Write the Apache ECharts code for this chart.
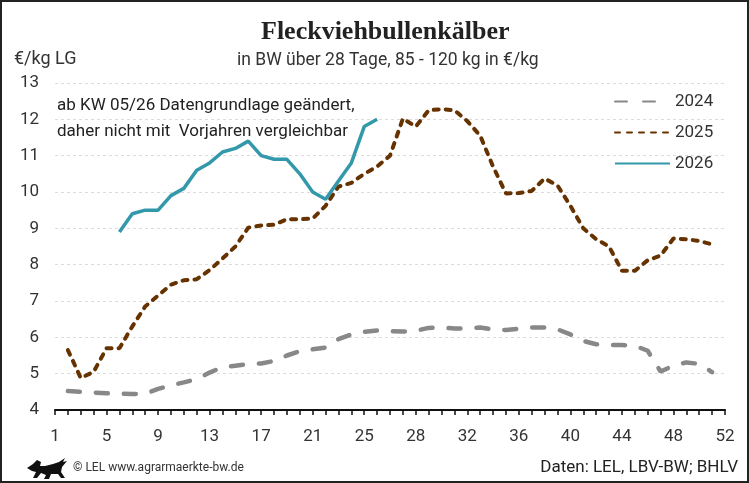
<!DOCTYPE html>
<html lang="de">
<head>
<meta charset="UTF-8">
<title>Fleckviehbullenkälber</title>
<script src="https://cdn.jsdelivr.net/npm/echarts@6/dist/echarts.min.js"></script>
<style>
  html, body { margin: 0; padding: 0; background: #fff; }
  #main {
    width: 749px;
    height: 483px;
    box-sizing: border-box;
    border: 2px solid #222;
  }
</style>
</head>
<body>
<div id="main"></div>
<script>
// 53 slots on the x axis, labels every 4th slot
const weeks = Array.from({ length: 53 }, (_, i) => String(i + 1));
const tickLabels = ['1', '5', '9', '13', '17', '21', '25', '28', '32', '36', '40', '44', '48', '52'];

const y2024 = [null,
  4.52, 4.50, 4.48, 4.46, 4.45, 4.44, 4.45, 4.58, 4.68, 4.76,
  4.85, 5.03, 5.18, 5.22, 5.26, 5.28, 5.35, 5.50, 5.62, 5.67,
  5.72, 5.95, 6.08, 6.15, 6.19, 6.17, 6.16, 6.18, 6.26, 6.27,
  6.24, 6.24, 6.27, 6.22, 6.20, 6.24, 6.27, 6.27, 6.22, 6.08,
  5.90, 5.81, 5.79, 5.79, 5.77, 5.63, 5.06, 5.22, 5.31, 5.27,
  5.04, null];

const y2025 = [null,
  5.65, 4.88, 5.05, 5.70, 5.70, 6.30, 6.85, 7.15, 7.45, 7.57,
  7.60, 7.85, 8.17, 8.50, 9.02, 9.08, 9.10, 9.25, 9.25, 9.27,
  9.62, 10.15, 10.25, 10.50, 10.70, 11.00, 12.02, 11.80, 12.25, 12.28,
  12.25, 11.95, 11.55, 10.70, 9.96, 9.97, 10.03, 10.37, 10.18, 9.62,
  9.00, 8.70, 8.50, 7.83, 7.83, 8.12, 8.25, 8.72, 8.70, 8.65,
  8.56, null];

const y2026 = [null, null, null, null, null,
  8.90, 9.40, 9.50, 9.50, 9.90, 10.10, 10.60, 10.80, 11.10, 11.20,
  11.40, 11.00, 10.90, 10.90, 10.50, 10.00, 9.80, 10.30, 10.80, 11.80,
  12.00];

const font = 'Roboto, "Liberation Sans", sans-serif';

const chart = echarts.init(document.getElementById('main'));

const option = {
  animation: false,
  title: [
    {
      text: 'Fleckviehbullenkälber',
      left: 259,
      top: 17,
      padding: 0,
      textStyle: { fontFamily: '"Liberation Serif", serif', fontWeight: 'bold', fontSize: 26, color: '#222' }
    },
    {
      text: 'in BW über 28 Tage, 85 - 120 kg in €/kg',
      left: 235,
      top: 50,
      padding: 0,
      textStyle: { fontFamily: font, fontWeight: 'normal', fontSize: 17.5, color: '#333' }
    },
    {
      text: '€/kg LG',
      left: 12,
      top: 48,
      padding: 0,
      textStyle: { fontFamily: font, fontWeight: 'normal', fontSize: 18, color: '#333' }
    },
    {
      text: 'ab KW 05/26 Datengrundlage geändert,\ndaher nicht mit  Vorjahren vergleichbar',
      left: 55,
      top: 91,
      padding: 0,
      textStyle: { fontFamily: font, fontWeight: 'normal', fontSize: 17, lineHeight: 26, color: '#222' }
    },
    {
      text: '© LEL www.agrarmaerkte-bw.de',
      left: 71,
      top: 460,
      padding: 0,
      textStyle: { fontFamily: font, fontWeight: 'normal', fontSize: 12, color: '#333' }
    },
    {
      text: 'Daten: LEL, LBV-BW; BHLV',
      right: 9,
      top: 457,
      padding: 0,
      textStyle: { fontFamily: font, fontWeight: 'normal', fontSize: 17, color: '#222' }
    }
  ],
  legend: {
    orient: 'vertical',
    left: 612,
    top: 91,
    padding: 0,
    itemWidth: 55,
    itemHeight: 14,
    itemGap: 14,
    itemStyle: { opacity: 0 },
    textStyle: { fontFamily: font, fontSize: 17, color: '#333' },
    data: ['2024', '2025', '2026']
  },
  grid: { left: 53, right: 22, top: 81, bottom: 71 },
  xAxis: {
    type: 'category',
    data: weeks,
    boundaryGap: false,
    axisLine: { lineStyle: { color: '#111', width: 2 } },
    axisTick: { interval: 0, length: 5, lineStyle: { color: '#111', width: 1.5 } },
    axisLabel: {
      interval: 3,
      margin: 18,
      fontFamily: font,
      fontSize: 17,
      color: '#333',
      formatter: (v, i) => tickLabels[i / 4]
    },
    splitLine: { show: false }
  },
  yAxis: {
    type: 'value',
    min: 4,
    max: 13,
    interval: 1,
    axisLine: { show: false },
    axisTick: { show: false },
    axisLabel: { margin: 16, fontFamily: font, fontSize: 17, color: '#333' },
    splitLine: { lineStyle: { color: '#dcdcdc', type: [3, 3], width: 1 } }
  },
  series: [
    {
      name: '2024',
      type: 'line',
      data: y2024,
      symbol: 'none',
      color: '#888888',
      lineStyle: { width: 4.5, type: [12, 16], cap: 'round', color: '#888888' }
    },
    {
      name: '2025',
      type: 'line',
      data: y2025,
      symbol: 'none',
      color: '#663300',
      lineStyle: { width: 4, type: [5, 7], cap: 'round', color: '#663300' }
    },
    {
      name: '2026',
      type: 'line',
      data: y2026,
      symbol: 'none',
      color: '#3399aa',
      lineStyle: { width: 3.5, color: '#3399aa' }
    }
  ],
  graphic: [
    {
      // simplified state lion
      type: 'polygon', x: 25, y: 456,
      shape: {
        points: [[0, 10], [6, 6], [10, 2], [14, 4], [13, 8], [18, 8], [26, 6], [32, 4], [38, 0],
          [36, 4], [40, 3], [35, 9], [34, 14], [38, 20], [34, 20], [31, 16], [24, 16], [22, 21],
          [17, 21], [19, 17], [14, 15], [10, 20], [6, 20], [9, 14], [5, 13]]
      },
      style: { fill: '#111' }
    }
  ]
};

chart.setOption(option);
</script>
</body>
</html>
